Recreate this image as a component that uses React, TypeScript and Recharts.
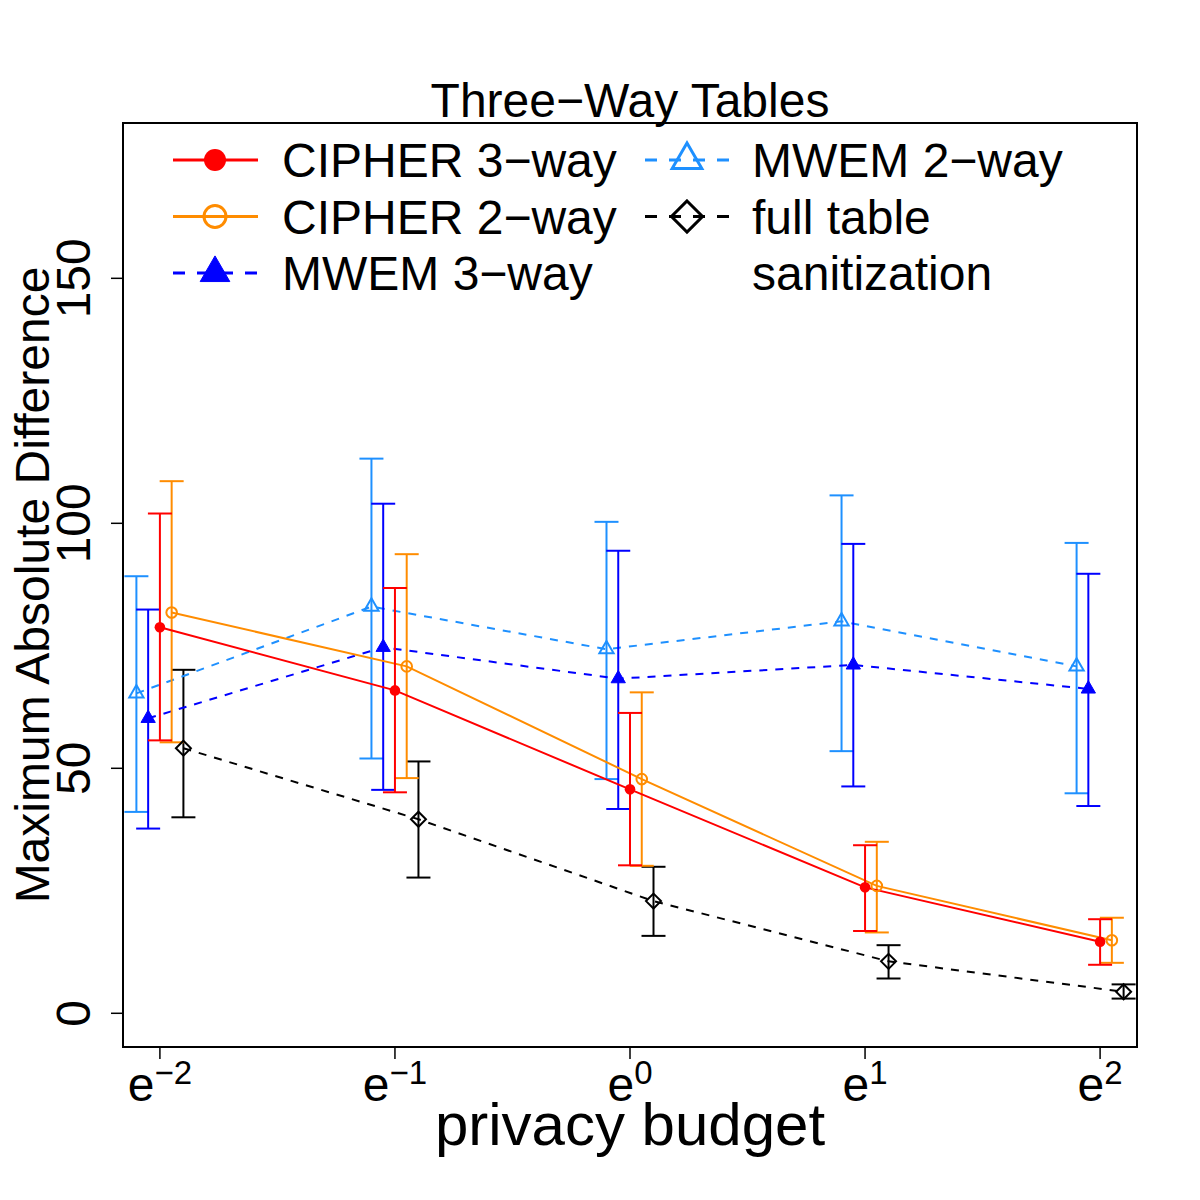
import React from 'react';
import {
  ComposedChart,
  Line,
  XAxis,
  YAxis,
  ErrorBar,
  ReferenceArea,
  Customized,
} from 'recharts';

// privacy budget exponents (e^k)
const budgetPower = [-2, -1, 0, 1, 2];

const cipher3 = [78.8, 65.9, 45.7, 25.7, 14.6];
const cipher3Lo = [55.7, 45.1, 30.2, 16.8, 9.9];
const cipher3Hi = [102.0, 86.8, 61.3, 34.3, 19.2];

const cipher2 = [81.8, 70.8, 47.8, 26.0, 14.9];
const cipher2Lo = [55.3, 48.0, 30.1, 16.5, 10.3];
const cipher2Hi = [108.6, 93.7, 65.5, 35.0, 19.5];

const mwem3 = [60.2, 74.7, 68.3, 71.1, 66.2];
const mwem3Lo = [37.7, 45.6, 41.7, 46.3, 42.3];
const mwem3Hi = [82.4, 104.0, 94.4, 95.8, 89.7];

const mwem2 = [65.3, 83.0, 74.3, 80.0, 70.8];
const mwem2Lo = [41.1, 52.0, 47.8, 53.5, 44.9];
const mwem2Hi = [89.2, 113.2, 100.3, 105.7, 96.0];

const fullTable = [54.1, 39.6, 22.9, 10.6, 4.4];
const fullTableLo = [40.0, 27.7, 15.8, 7.1, 3.0];
const fullTableHi = [70.1, 51.4, 29.9, 13.9, 5.9];

const yTicks = [0, 50, 100, 150];

const FONT = '"Liberation Sans", Arial, Helvetica, sans-serif';
const X_DOMAIN: [number, number] = [-2.157, 2.157];
const Y_DOMAIN: [number, number] = [-6.88, 181.7];

type MarkerKind = 'dot' | 'circle' | 'triangleFilled' | 'triangle' | 'diamond';

interface SeriesDef {
  labels: string[];
  values: number[];
  lo: number[];
  hi: number[];
  shift: number;
  color: string;
  marker: MarkerKind;
  dashed: boolean;
  col: number;
  row: number;
}

const series: SeriesDef[] = [
  { labels: ['full table', 'sanitization'], values: fullTable, lo: fullTableLo, hi: fullTableHi, shift: 0.1, color: '#000000', marker: 'diamond', dashed: true, col: 1, row: 1 },
  { labels: ['MWEM 2−way'], values: mwem2, lo: mwem2Lo, hi: mwem2Hi, shift: -0.1, color: '#1E90FF', marker: 'triangle', dashed: true, col: 1, row: 0 },
  { labels: ['MWEM 3−way'], values: mwem3, lo: mwem3Lo, hi: mwem3Hi, shift: -0.05, color: '#0000FF', marker: 'triangleFilled', dashed: true, col: 0, row: 2 },
  { labels: ['CIPHER 2−way'], values: cipher2, lo: cipher2Lo, hi: cipher2Hi, shift: 0.05, color: '#FF8C00', marker: 'circle', dashed: false, col: 0, row: 1 },
  { labels: ['CIPHER 3−way'], values: cipher3, lo: cipher3Lo, hi: cipher3Hi, shift: 0, color: '#FF0000', marker: 'dot', dashed: false, col: 0, row: 0 },
];

// R-style plotting symbols, r is the base symbol radius
function drawMarker(kind: MarkerKind, cx: number, cy: number, r: number, color: string, sw: number, key?: string) {
  if (kind === 'dot') return <circle key={key} cx={cx} cy={cy} r={r} fill={color} stroke="none" />;
  if (kind === 'circle') return <circle key={key} cx={cx} cy={cy} r={r} fill="none" stroke={color} strokeWidth={sw} />;
  if (kind === 'diamond') {
    const d = r * 1.414;
    return (
      <polygon key={key} points={`${cx},${cy - d} ${cx + d},${cy} ${cx},${cy + d} ${cx - d},${cy}`} fill="none" stroke={color} strokeWidth={sw} />
    );
  }
  const top = r * 1.555;
  const half = r * 1.347;
  const bot = r * 0.778;
  const pts = `${cx},${cy - top} ${cx + half},${cy + bot} ${cx - half},${cy + bot}`;
  if (kind === 'triangleFilled') return <polygon key={key} points={pts} fill={color} stroke={color} strokeWidth={1} />;
  return <polygon key={key} points={pts} fill="none" stroke={color} strokeWidth={sw} />;
}

const PowerTick = (props: any) => {
  const { x, y, payload } = props;
  const p = payload.value as number;
  const sup = p < 0 ? `−${-p}` : `${p}`;
  return (
    <text x={x} y={y + 42} textAnchor="middle" fontFamily={FONT} fill="#000">
      <tspan fontSize={48}>e</tspan>
      <tspan fontSize={33} dy={-17}>{sup}</tspan>
    </text>
  );
};

const CountTick = (props: any) => {
  const { x, y, payload } = props;
  const bx = x - 21;
  return (
    <text x={bx} y={y} transform={`rotate(-90 ${bx} ${y})`} textAnchor="middle" fontSize={48} fontFamily={FONT} fill="#000">
      {payload.value}
    </text>
  );
};

const legendCols = [
  { lineX1: 173, lineX2: 258, markX: 215, textX: 282 },
  { lineX1: 645, lineX2: 730, markX: 687, textX: 752 },
];
const legendRowY = [160, 216.5, 273];

const Overlay = () => (
  <g fontFamily={FONT}>
    <text x={630} y={117} textAnchor="middle" fontSize={48} fill="#000">
      Three−Way Tables
    </text>
    <text x={49} y={585} transform="rotate(-90 49 585)" textAnchor="middle" fontSize={48} fill="#000">
      Maximum Absolute Difference
    </text>
    <text x={630} y={1145} textAnchor="middle" fontSize={60} fill="#000">
      privacy budget
    </text>
    {series.map((s) => {
      const c = legendCols[s.col];
      const y = legendRowY[s.row];
      return (
        <g key={s.labels[0]}>
          <line
            x1={c.lineX1}
            x2={c.lineX2}
            y1={y}
            y2={y}
            stroke={s.color}
            strokeWidth={3}
            strokeDasharray={s.dashed ? '12 12' : undefined}
          />
          {drawMarker(s.marker, c.markX, y, 11, s.color, 3)}
          {s.labels.map((t, i) => (
            <text key={t} x={c.textX} y={legendRowY[s.row + i] + 17} fontSize={48} fill="#000">
              {t}
            </text>
          ))}
        </g>
      );
    })}
  </g>
);

export default function App() {
  return (
    <div style={{ position: 'absolute', left: 0, top: 0, width: 1200, height: 1200, background: '#fff' }}>
      <ComposedChart width={1200} height={1200} margin={{ top: 123, right: 63, bottom: 0, left: 0 }}>
        <XAxis
          type="number"
          dataKey="x"
          domain={X_DOMAIN}
          ticks={budgetPower}
          interval={0}
          allowDataOverflow
          height={153}
          axisLine={false}
          tickLine={{ stroke: '#000', strokeWidth: 1.5 }}
          tickSize={12}
          tickMargin={0}
          tick={<PowerTick />}
        />
        <YAxis
          type="number"
          domain={Y_DOMAIN}
          ticks={yTicks}
          interval={0}
          allowDataOverflow
          width={123}
          axisLine={false}
          tickLine={{ stroke: '#000', strokeWidth: 1.5 }}
          tickSize={12}
          tickMargin={0}
          tick={<CountTick />}
        />
        <ReferenceArea
          x1={X_DOMAIN[0]}
          x2={X_DOMAIN[1]}
          y1={Y_DOMAIN[0]}
          y2={Y_DOMAIN[1]}
          fill="none"
          fillOpacity={0}
          stroke="#000"
          strokeWidth={2}
          ifOverflow="visible"
        />
        {series.map((s) => {
          const rows = s.values.map((v, i) => ({
            x: budgetPower[i] + s.shift,
            y: v,
            err: [v - s.lo[i], s.hi[i] - v],
          }));
          return (
            <Line
              key={s.labels[0]}
              data={rows}
              dataKey="y"
              type="linear"
              stroke={s.color}
              strokeWidth={2}
              strokeDasharray={s.dashed ? '8 8' : undefined}
              isAnimationActive={false}
              activeDot={false}
              dot={(p: any) => drawMarker(s.marker, p.cx, p.cy, 5.3, s.color, 2, `${s.labels[0]}-${p.index}`)}
            >
              <ErrorBar dataKey="err" direction="y" width={12} stroke={s.color} strokeWidth={2} />
            </Line>
          );
        })}
        <Customized component={Overlay} />
      </ComposedChart>
    </div>
  );
}
